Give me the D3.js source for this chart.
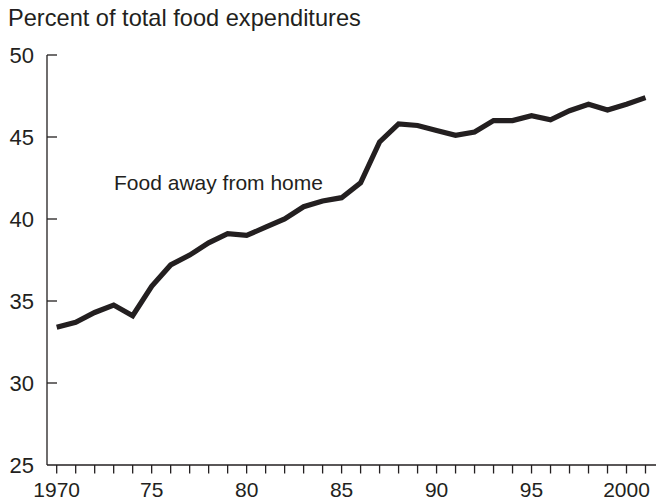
<!DOCTYPE html>
<html>
<head>
<meta charset="utf-8">
<script src="https://cdn.jsdelivr.net/npm/d3@7/dist/d3.min.js"></script>
<style>
    body { margin: 0; background: #fff; }
    text { font-family: "Liberation Sans", Arial, Helvetica, sans-serif; fill: #231f20; }
    .axis line, .axis path { stroke: #231f20; stroke-width: 1.3; }
</style>
</head>
<body>
<script>
var years = [1970, 1971, 1972, 1973, 1974, 1975, 1976, 1977, 1978, 1979,
    1980, 1981, 1982, 1983, 1984, 1985, 1986, 1987, 1988, 1989,
    1990, 1991, 1992, 1993, 1994, 1995, 1996, 1997, 1998, 1999,
    2000, 2001];
var awayShare = [33.4, 33.7, 34.3, 34.75, 34.1, 35.9, 37.2, 37.8, 38.55, 39.1,
    39.0, 39.5, 40.0, 40.75, 41.1, 41.3, 42.2, 44.7, 45.8, 45.7,
    45.4, 45.1, 45.3, 46.0, 46.0, 46.3, 46.05, 46.6, 47.0, 46.65,
    47.0, 47.4];
var yTicks = [25, 30, 35, 40, 45, 50];
var xLabelYears = [1970, 1975, 1980, 1985, 1990, 1995, 2000];
var xLabelText = ["1970", "75", "80", "85", "90", "95", "2000"];

var _width = 656, _height = 503;
var _axisX = 47, _axisY = 465, _top = 55;

var svg = d3.select("body").append("svg")
    .attr("width", _width)
    .attr("height", _height);

var x = d3.scaleLinear()
    .domain([1970, 2001])
    .range([56.7, 645.5]);

var y = d3.scaleLinear()
    .domain([25, 50])
    .range([_axisY, _top]);

// title
svg.append("text")
    .attr("x", 8)
    .attr("y", 26)
    .style("font-size", "23.6px")
    .text("Percent of total food expenditures");

// y axis: line + inward ticks
var yAxis = svg.append("g").attr("class", "axis");
yAxis.append("line")
    .attr("x1", _axisX).attr("x2", _axisX)
    .attr("y1", y(50)).attr("y2", _axisY);
yAxis.selectAll("line.tick")
    .data(yTicks.slice(1))
    .enter().append("line")
    .attr("class", "tick")
    .attr("x1", _axisX).attr("x2", _axisX + 10)
    .attr("y1", function (d) { return y(d); })
    .attr("y2", function (d) { return y(d); });
yAxis.selectAll("text")
    .data(yTicks)
    .enter().append("text")
    .attr("x", 34)
    .attr("y", function (d) { return y(d) + 8.3; })
    .attr("text-anchor", "end")
    .style("font-size", "22px")
    .text(function (d) { return d; });

// x axis: line + yearly ticks below
var xAxis = svg.append("g").attr("class", "axis");
xAxis.append("line")
    .attr("x1", _axisX).attr("x2", _width)
    .attr("y1", _axisY).attr("y2", _axisY);
xAxis.selectAll("line.tick")
    .data(years)
    .enter().append("line")
    .attr("class", "tick")
    .attr("x1", function (d) { return x(d); })
    .attr("x2", function (d) { return x(d); })
    .attr("y1", _axisY).attr("y2", _axisY + 8.5);
xAxis.selectAll("text")
    .data(xLabelYears)
    .enter().append("text")
    .attr("x", function (d) { return x(d); })
    .attr("y", 497)
    .attr("text-anchor", "middle")
    .style("font-size", "21px")
    .text(function (d, i) { return xLabelText[i]; });

// the series
var line = d3.line()
    .x(function (d, i) { return x(years[i]); })
    .y(function (d) { return y(d); });

svg.append("path")
    .datum(awayShare)
    .attr("d", line)
    .attr("fill", "none")
    .attr("stroke", "#231f20")
    .attr("stroke-width", 5.2)
    .attr("stroke-linejoin", "miter");

svg.append("text")
    .attr("x", 114)
    .attr("y", 190)
    .style("font-size", "21px")
    .text("Food away from home");
</script>
</body>
</html>
